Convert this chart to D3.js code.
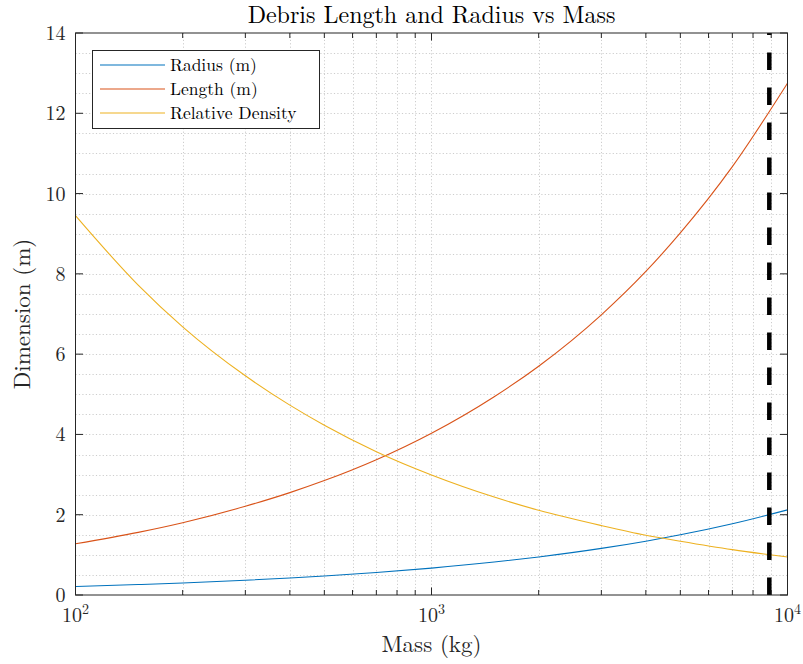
<!DOCTYPE html>
<html>
<head>
<meta charset="utf-8">
<script src="https://cdn.jsdelivr.net/npm/d3@7"></script>
<style>
  html, body { margin: 0; padding: 0; background: #fff; }
  svg { display: block; }
  svg text { font-family: "Latin Modern Roman", "CMU Serif", "Liberation Serif", "Tinos", "Times New Roman", "DejaVu Serif", serif; }
</style>
</head>
<body>
<svg id="chart" width="803" height="664"></svg>
<script>
// Sampled masses (kg) and the quantities at each mass
const mass     = [100, 150, 200, 300, 400, 500, 700, 1000, 1500, 2000, 3000, 4000, 5000, 7000, 10000];
const radius   = [0.212, 0.26, 0.30, 0.367, 0.424, 0.474, 0.561, 0.67, 0.821, 0.948, 1.161, 1.341, 1.499, 1.774, 2.12];
const lengthM  = [1.275, 1.56, 1.80, 2.21, 2.55, 2.85, 3.37, 4.03, 4.94, 5.70, 6.98, 8.06, 9.02, 10.67, 12.75];
const density  = [9.45, 7.72, 6.68, 5.46, 4.73, 4.23, 3.57, 2.99, 2.44, 2.11, 1.73, 1.49, 1.34, 1.13, 0.945];
const limitMass = 8890;

const seriesNames  = ["Radius (m)", "Length (m)", "Relative Density"];
const seriesColors = ["#0072BD", "#D95319", "#EDB120"];
const yTicks = [0, 2, 4, 6, 8, 10, 12, 14];
const xMajor = [100, 1000, 10000];
const xExp   = ["2", "3", "4"];

const L = 75.5, R = 787.5, T = 33, B = 595;
const svg = d3.select("#chart");

const x = d3.scaleLog().domain([100, 10000]).range([L, R]);
const y = d3.scaleLinear().domain([0, 14]).range([B, T]);

// minor x positions: 2..9 times each decade
const xMinor = [];
[100, 1000].forEach(d => { for (let k = 2; k <= 9; k++) xMinor.push(d * k); });
const yMinor = d3.range(0.5, 14, 0.5).filter(v => v % 2 !== 0);

// grid (dotted)
const grid = svg.append("g").attr("stroke", "#cdcdcd").attr("stroke-width", 1)
  .attr("stroke-dasharray", "1.2,2.2").attr("fill", "none");
xMinor.concat(xMajor.slice(1, 2)).forEach(v => {
  grid.append("line").attr("x1", Math.round(x(v)) + 0.5).attr("x2", Math.round(x(v)) + 0.5)
    .attr("y1", T).attr("y2", B);
});
yTicks.slice(1, -1).concat(yMinor).forEach(v => {
  grid.append("line").attr("x1", L).attr("x2", R)
    .attr("y1", Math.round(y(v)) + 0.5).attr("y2", Math.round(y(v)) + 0.5);
});

// data lines
const line = d3.line().x((d, i) => x(mass[i])).y(d => y(d)).curve(d3.curveMonotoneX);
[radius, lengthM, density].forEach((s, i) => {
  svg.append("path").datum(s).attr("d", line).attr("fill", "none")
    .attr("stroke", seriesColors[i]).attr("stroke-width", 1.1);
});

// mass limit marker
svg.append("line")
  .attr("x1", x(limitMass)).attr("x2", x(limitMass))
  .attr("y1", y(0)).attr("y2", y(14))
  .attr("stroke", "#000").attr("stroke-width", 4.5)
  .attr("stroke-dasharray", "17.5,17.5");

// axes box and ticks
const ax = svg.append("g").attr("stroke", "#262626").attr("fill", "none");
ax.append("rect").attr("x", L).attr("y", T).attr("width", R - L).attr("height", B - T)
  .attr("stroke-width", 1);
xMajor.forEach(v => {
  ax.append("line").attr("x1", x(v)).attr("x2", x(v)).attr("y1", B).attr("y2", B - 7.5);
  ax.append("line").attr("x1", x(v)).attr("x2", x(v)).attr("y1", T).attr("y2", T + 7.5);
});
xMinor.forEach(v => {
  ax.append("line").attr("x1", x(v)).attr("x2", x(v)).attr("y1", B).attr("y2", B - 5);
  ax.append("line").attr("x1", x(v)).attr("x2", x(v)).attr("y1", T).attr("y2", T + 5);
});
yTicks.forEach(v => {
  ax.append("line").attr("x1", L).attr("x2", L + 7.5).attr("y1", y(v)).attr("y2", y(v));
  ax.append("line").attr("x1", R).attr("x2", R - 7.5).attr("y1", y(v)).attr("y2", y(v));
});

// tick labels
const txt = svg.append("g").attr("fill", "#262626");
yTicks.forEach(v => {
  txt.append("text").attr("x", L - 10).attr("y", y(v)).attr("dy", "0.35em")
    .attr("text-anchor", "end").attr("font-size", 20).text(v);
});
xMajor.forEach((v, i) => {
  const t = txt.append("text").attr("x", x(v)).attr("y", 622).attr("text-anchor", "middle")
    .attr("font-size", 20);
  t.append("tspan").text("10");
  t.append("tspan").attr("font-size", 14).attr("dy", -8).text(xExp[i]);
});

// title and axis labels
txt.append("text").attr("x", (L + R) / 2).attr("y", 23).attr("text-anchor", "middle")
  .attr("font-size", 24).attr("fill", "#000").text("Debris Length and Radius vs Mass");
txt.append("text").attr("x", (L + R) / 2).attr("y", 652).attr("text-anchor", "middle")
  .attr("font-size", 23).text("Mass (kg)");
txt.append("text").attr("transform", `translate(30,${(T + B) / 2}) rotate(-90)`)
  .attr("text-anchor", "middle").attr("font-size", 23).text("Dimension (m)");

// legend
const lg = svg.append("g");
lg.append("rect").attr("x", 92.5).attr("y", 50.5).attr("width", 227).attr("height", 78)
  .attr("fill", "#fff").attr("stroke", "#262626").attr("stroke-width", 1);
seriesNames.forEach((n, i) => {
  const yy = 65 + i * 24;
  lg.append("line").attr("x1", 100).attr("x2", 165).attr("y1", yy).attr("y2", yy)
    .attr("stroke", seriesColors[i]).attr("stroke-width", 1.1);
  lg.append("text").attr("x", 170).attr("y", yy).attr("dy", "0.35em")
    .attr("font-size", 17.5).attr("fill", "#000").text(n);
});
</script>
</body>
</html>
